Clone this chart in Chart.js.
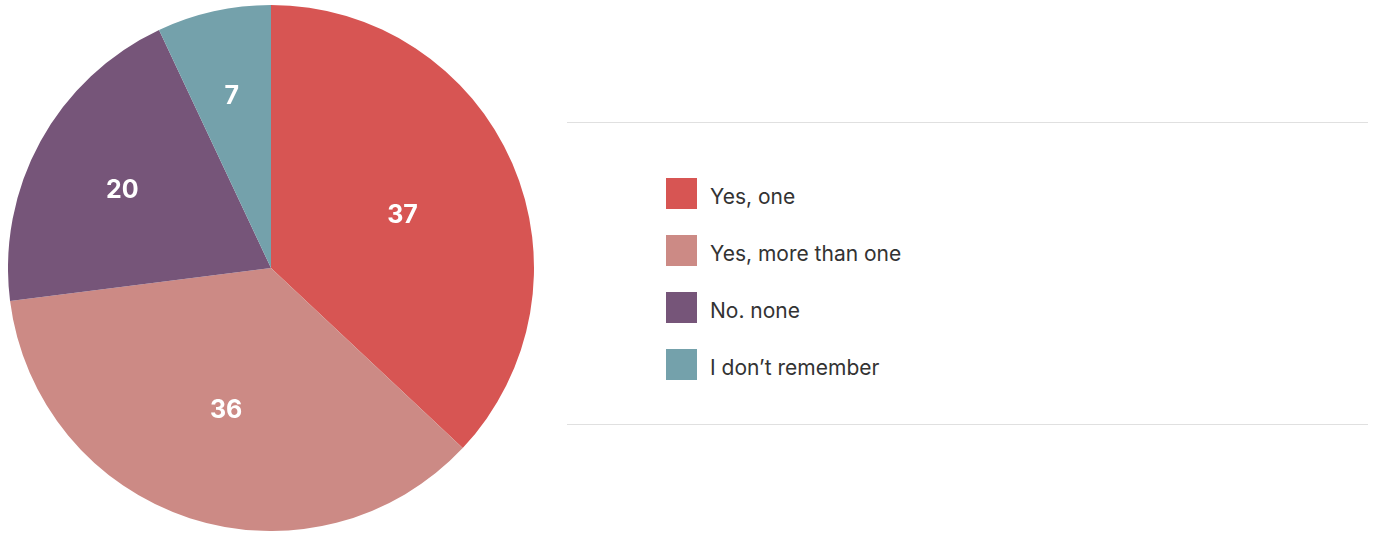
<!DOCTYPE html>
<html>
<head>
<meta charset="utf-8">
<title>Pie</title>
<script src="https://cdn.jsdelivr.net/npm/chart.js@4"></script>
<style>
  html, body { margin: 0; padding: 0; background: #fff; }
  body { width: 1377px; height: 534px; position: relative; overflow: hidden; font-family: Inter, "Noto Sans", sans-serif; }
  #pie-wrap { position: absolute; left: 8px; top: 5px; width: 526px; height: 526px; }
  #legend {
    position: absolute; left: 567px; top: 122px; width: 801px; height: 301px;
    border-top: 1px solid #e0e0e0; border-bottom: 1px solid #e0e0e0;
  }
  #legend ul { list-style: none; margin: 0; padding: 0; position: absolute; left: 99px; top: 55px; }
  #legend li { display: flex; align-items: center; height: 31px; margin-bottom: 26px; color: #333; font-size: 21px; }
  #legend .box { width: 31px; height: 31px; margin-right: 13px; }
  #legend .txt { position: relative; top: 3px; }
</style>
</head>
<body>
<div id="pie-wrap"><canvas id="myChart" width="526" height="526"></canvas></div>
<div id="legend"><ul id="legend-list"></ul></div>
<script>
'use strict';

// ******* DATA *******
let categories = ['Yes, one', 'Yes, more than one', 'No. none', 'I don\u2019t remember'];
let answers = [37, 36, 20, 7];
let sliceColors = ['#d75553', '#cc8a85', '#765579', '#74a1ab'];

// ******* VALUE LABELS *******
// puts each number near the centroid of its slice
let sliceLabels = {
  id: 'sliceLabels',
  afterDatasetsDraw(chart) {
    let ctx = chart.ctx;
    let meta = chart.getDatasetMeta(0);
    ctx.save();
    ctx.fillStyle = '#fff';
    ctx.font = '700 25px Inter, sans-serif';
    ctx.textAlign = 'center';
    ctx.textBaseline = 'middle';
    meta.data.forEach((arc, i) => {
      let half = (arc.endAngle - arc.startAngle) / 2;
      let mid = arc.startAngle + half;
      let dist = 0.69 * arc.outerRadius * Math.sin(half) / half;
      ctx.fillText(String(chart.data.datasets[0].data[i]), arc.x + Math.cos(mid) * dist, arc.y + Math.sin(mid) * dist + 4);
    });
    ctx.restore();
  }
};

let canvasElem = document.getElementById('myChart').getContext('2d');

let myChart = new Chart(canvasElem, {
  type: 'pie',
  data: {
    labels: categories,
    datasets: [{
      data: answers,
      backgroundColor: sliceColors,
      borderWidth: 0
    }]
  },
  options: {
    responsive: false,
    animation: false,
    layout: { padding: 0 },
    plugins: {
      legend: { display: false },
      tooltip: { enabled: false }
    }
  },
  plugins: [sliceLabels]
});

// ******* HTML LEGEND *******
let legendList = document.getElementById('legend-list');
for (let i = 0; i < categories.length; i++) {
  let li = document.createElement('li');
  let box = document.createElement('span');
  box.className = 'box';
  box.style.background = sliceColors[i];
  let txt = document.createElement('span');
  txt.className = 'txt';
  txt.textContent = categories[i];
  li.appendChild(box);
  li.appendChild(txt);
  legendList.appendChild(li);
}
</script>
</body>
</html>
